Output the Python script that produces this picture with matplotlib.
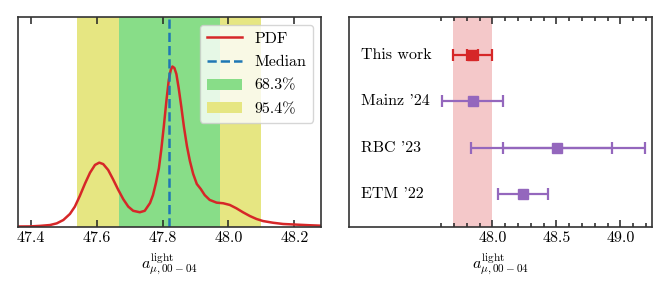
import numpy as np
import matplotlib
matplotlib.use("Agg")
import matplotlib.pyplot as plt

plt.rcParams["font.family"] = "serif"
plt.rcParams["font.serif"] = ["cmr10"]
plt.rcParams["mathtext.fontset"] = "cm"
plt.rcParams["axes.formatter.use_mathtext"] = True
plt.rcParams["font.size"] = 11.5

# PDF curve
pdf_x = [47.362, 47.398, 47.428, 47.4585, 47.479, 47.499, 47.519, 47.534,
         47.549, 47.565, 47.580, 47.595, 47.608, 47.620, 47.635, 47.650,
         47.665, 47.681, 47.696, 47.711, 47.731, 47.746, 47.762, 47.771,
         47.780, 47.789, 47.796, 47.804, 47.812, 47.819, 47.825, 47.830,
         47.836, 47.842, 47.849, 47.857, 47.865, 47.874, 47.883, 47.893,
         47.904, 47.916, 47.928, 47.943, 47.964, 47.984, 48.004, 48.024,
         48.044, 48.065, 48.085, 48.105, 48.135, 48.166, 48.206, 48.246,
         48.279]
pdf_y = [0.01, 0.014, 0.04, 0.08, 0.16, 0.32, 0.61, 0.96,
         1.47, 2.07, 2.58, 2.95, 3.06, 2.99, 2.71, 2.26,
         1.78, 1.31, 0.96, 0.76, 0.69, 0.76, 1.13, 1.51,
         2.09, 2.80, 3.66, 4.81, 6.05, 7.01, 7.49, 7.65,
         7.58, 7.29, 6.62, 5.72, 4.76, 3.85, 3.14, 2.52,
         2.04, 1.80, 1.51, 1.28, 1.15, 1.12, 1.04, 0.88,
         0.69, 0.51, 0.37, 0.27, 0.19, 0.13, 0.10, 0.07,
         0.05]
median = 47.821
band68 = (47.668, 47.973)
band95 = (47.539, 48.099)

# comparison panel
names = ["This work", "Mainz '24", "RBC '23", "ETM '22"]
centers = [47.844, 47.845, 48.507, 48.242]
lo_tot = [47.695, 47.605, 47.834, 48.042]
hi_tot = [47.995, 48.086, 49.19, 48.437]
lo_in = [47.80, None, 48.08, None]
hi_in = [47.886, None, 48.937, None]
rows = [4, 3, 2, 1]
colors = ["#d62728", "#9467bd", "#9467bd", "#9467bd"]

fig = plt.figure(figsize=(6.7, 2.92), dpi=100)
ax1 = fig.add_axes([0.0269, 0.2236, 0.4518, 0.7171])
ax2 = fig.add_axes([0.5209, 0.2236, 0.4518, 0.7171])

# left: PDF
ax1.axvspan(*band95, color="#e6e682", lw=0, label="95.4%")
ax1.axvspan(*band68, color="#88dd88", lw=0, label="68.3%")
ax1.plot(pdf_x, pdf_y, color="#d62728", lw=1.8, label="PDF")
ax1.axvline(median, color="#1f77b4", ls="--", lw=1.8, label="Median")
ax1.set_xlim(47.3615, 48.28)
ax1.set_ylim(0, 10)
ax1.set_yticks([])
ax1.set_xticks([47.4, 47.6, 47.8, 48.0, 48.2])
ax1.xaxis.set_major_formatter(matplotlib.ticker.FormatStrFormatter("%.1f"))
h, l = ax1.get_legend_handles_labels()
order = [2, 3, 1, 0]
ax1.legend([h[i] for i in order], [l[i] for i in order], loc="upper right",
           handlelength=2.2, borderaxespad=0.5, labelspacing=0.58)
ax1.set_xlabel(r"$a_{\mu,00-04}^{\mathrm{light}}$")

# right: comparison
ax2.axvspan(lo_tot[0], hi_tot[0], color="#d62728", alpha=0.25, lw=0)
for i in range(len(names)):
    c = centers[i]
    ax2.errorbar([c], [rows[i]], xerr=[[c - lo_tot[i]], [hi_tot[i] - c]],
                 fmt="s", color=colors[i], ms=7.5, lw=1.6, capsize=4.5,
                 capthick=1.6)
    if lo_in[i] is not None:
        ax2.errorbar([c], [rows[i]], xerr=[[c - lo_in[i]], [hi_in[i] - c]],
                     fmt="none", color=colors[i], lw=1.6, capsize=4.5,
                     capthick=1.6)
    ax2.text(46.974, rows[i], names[i], va="center", ha="left")
ax2.set_xlim(46.88, 49.245)
ax2.set_ylim(0.3, 4.81)
ax2.set_yticks([])
ax2.set_xticks([48.0, 48.5, 49.0])
ax2.set_xticks(np.arange(47.6, 49.25, 0.1), minor=True)
ax2.xaxis.set_major_formatter(matplotlib.ticker.FormatStrFormatter("%.1f"))
ax2.set_xlabel(r"$a_{\mu,00-04}^{\mathrm{light}}$")

for ax in (ax1, ax2):
    for s in ax.spines.values():
        s.set_linewidth(1.2)
        s.set_color("#333333")
    ax.tick_params(axis="x", which="major", direction="in", top=True,
                   length=5, width=1.1, color="#222222")
    ax.tick_params(axis="x", which="minor", direction="in", top=True,
                   length=2.8, width=1.1, color="#222222")

fig.savefig("out.png", dpi=100)
